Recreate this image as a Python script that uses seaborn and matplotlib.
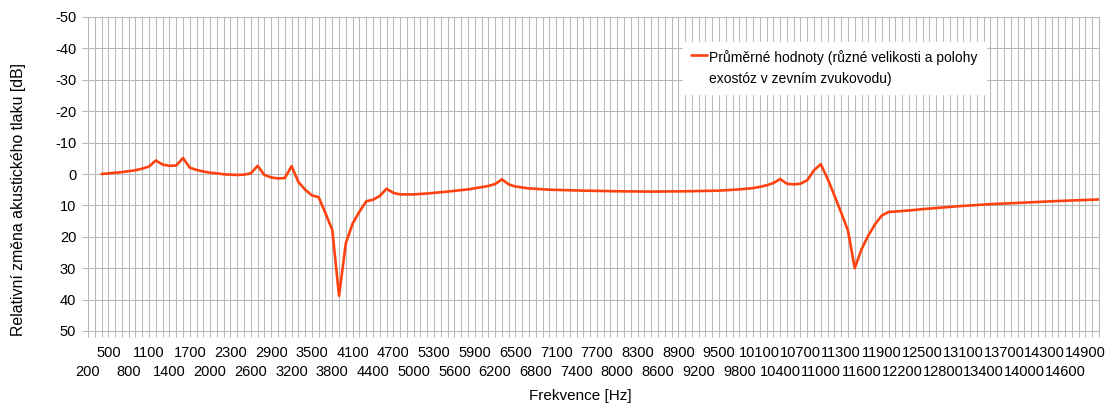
import matplotlib
matplotlib.use("Agg")
import numpy as np
import matplotlib.pyplot as plt
import seaborn as sns
import pandas as pd
from matplotlib.ticker import FixedLocator, MultipleLocator
from matplotlib.legend_handler import HandlerLine2D
from matplotlib.lines import Line2D

# ---- data ----
freq_hz = [400, 500, 600, 700, 800, 900, 1000, 1100, 1200, 1300, 1400, 1500,
           1600, 1700, 1800, 1900, 2000, 2100, 2200, 2300, 2400, 2500, 2600,
           2700, 2800, 2900, 3000, 3100, 3200, 3300, 3400, 3500, 3600, 3700,
           3800, 3900, 4000, 4100, 4200, 4300, 4400, 4500, 4600, 4700, 4800,
           5000, 5200, 5500, 5800, 6000, 6100, 6200, 6300, 6400, 6500, 6700,
           7000, 7500, 8000, 8500, 9000, 9500, 9800, 10000, 10100, 10200,
           10300, 10400, 10500, 10600, 10700, 10800, 10900, 11000, 11100,
           11200, 11300, 11400, 11500, 11600, 11700, 11800, 11900, 12000,
           12200, 12500, 13000, 13500, 14000, 14500, 15100]
rel_db = [0.0, -0.2, -0.4, -0.6, -0.9, -1.2, -1.7, -2.4, -4.3, -3.0, -2.6, -2.7,
          -5.1, -2.0, -1.3, -0.8, -0.4, -0.2, 0.1, 0.2, 0.3, 0.2, -0.2,
          -2.6, 0.3, 1.1, 1.4, 1.3, -2.5, 2.5, 5.0, 6.8, 7.4, 12.5,
          17.8, 38.8, 22.0, 15.8, 12.0, 8.7, 8.2, 7.0, 4.7, 6.0, 6.5,
          6.5, 6.2, 5.6, 4.9, 4.2, 3.8, 3.2, 1.7, 3.3, 4.0, 4.6,
          5.0, 5.3, 5.5, 5.6, 5.5, 5.3, 4.9, 4.5, 4.1, 3.6,
          2.9, 1.6, 3.1, 3.3, 3.1, 2.0, -1.2, -3.1, 1.5,
          6.8, 12.3, 18.0, 30.0, 24.0, 19.6, 16.0, 13.2, 12.1,
          11.8, 11.2, 10.3, 9.6, 9.1, 8.6, 8.1]
series_label = "Průměrné hodnoty (různé velikosti a polohy\nexostóz v zevním zvukovodu)"
x_ticks_top = [500, 1100, 1700, 2300, 2900, 3500, 4100, 4700, 5300, 5900, 6500,
               7100, 7700, 8300, 8900, 9500, 10100, 10700, 11300, 11900, 12500,
               13100, 13700, 14300, 14900]
x_ticks_bottom = [200, 800, 1400, 2000, 2600, 3200, 3800, 4400, 5000, 5600, 6200,
                  6800, 7400, 8000, 8600, 9200, 9800, 10400, 11000, 11600, 12200,
                  12800, 13400, 14000, 14600]
y_tick_values = [-50, -40, -30, -20, -10, 0, 10, 20, 30, 40, 50]
y_tick_labels = ["-50", "-40", "-30", "-20", "-10", "0", "10", "20", "30", "40", "50"]
x_title = "Frekvence [Hz]"
y_title = "Relativní změna akustického tlaku [dB]"

sns.set_theme(style="white")
plt.rcParams["font.family"] = ["Liberation Sans", "DejaVu Sans"]
plt.rcParams["text.color"] = "black"

W, H = 1112, 407
fig = plt.figure(figsize=(W / 100, H / 100), dpi=100)
L, R, T, B = 88, 1099, 17, 331
ax = fig.add_axes([L / W, 1 - B / H, (R - L) / W, (B - T) / H])

df = pd.DataFrame({"f": freq_hz, "db": rel_db})
sns.lineplot(data=df, x="f", y="db", ax=ax, color="#ff420e", linewidth=1.9,
             label=series_label, zorder=3)

ax.set_xlim(200, 15100)
ax.set_ylim(50, -50)

ax.xaxis.set_major_locator(FixedLocator(x_ticks_top))
ax.set_xticklabels([str(v) for v in x_ticks_top])
ax.xaxis.set_minor_locator(MultipleLocator(100))
ax.set_yticks(y_tick_values)
ax.set_yticklabels(y_tick_labels)

grid_c = "#b8b8b8"
ax.grid(True, which="both", axis="x", color=grid_c, lw=0.75)
ax.grid(True, which="major", axis="y", color=grid_c, lw=0.75)
ax.set_axisbelow(True)
for s in ax.spines.values():
    s.set_color(grid_c)
    s.set_linewidth(0.75)

ax.tick_params(axis="x", which="both", bottom=True, direction="out", length=4.5,
               width=0.75, color=grid_c, labelsize=10.5, pad=6, labelcolor="black")
ax.tick_params(axis="y", which="major", left=True, direction="out", length=4.5,
               width=0.75, color=grid_c, labelsize=10.5, pad=4, labelcolor="black")

# second (staggered) row of x labels
sec = ax.secondary_xaxis("bottom")
sec.set_xticks(x_ticks_bottom)
sec.set_xticklabels([str(v) for v in x_ticks_bottom])
sec.tick_params(axis="x", length=0, pad=24.5, labelsize=10.5, labelcolor="black")
sec.spines["bottom"].set_visible(False)

ax.set_xlabel(x_title, fontsize=11, color="black")
ax.set_ylabel(y_title, fontsize=11.4, color="black")
ax.xaxis.set_label_coords((580 - L) / (R - L), (B - 389) / (B - T))
ax.yaxis.set_label_coords((26 - L) / (R - L), (B - 199) / (B - T))


class FirstLineHandler(HandlerLine2D):
    """Draw the legend line next to the first line of a two-line label."""
    def create_artists(self, legend, orig_handle, xdescent, ydescent, width,
                       height, fontsize, trans):
        arts = super().create_artists(legend, orig_handle, xdescent, ydescent,
                                      width, height, fontsize, trans)
        for a in arts:
            if isinstance(a, Line2D):
                a.set_ydata(np.asarray(a.get_ydata(), dtype=float) + 10.0)
        return arts


handles, labels = ax.get_legend_handles_labels()
leg = ax.legend(handles, labels, loc="upper left",
                bbox_to_anchor=((683 - L) / (R - L), (B - 42) / (B - T)),
                borderaxespad=0, frameon=True, fancybox=False, framealpha=1,
                facecolor="white", edgecolor="white", fontsize=10,
                handlelength=1.1, handletextpad=0.2, borderpad=0.6,
                handler_map={Line2D: FirstLineHandler()})
for t in leg.get_texts():
    t.set_linespacing(1.6)

fig.savefig("out.png", dpi=100)
